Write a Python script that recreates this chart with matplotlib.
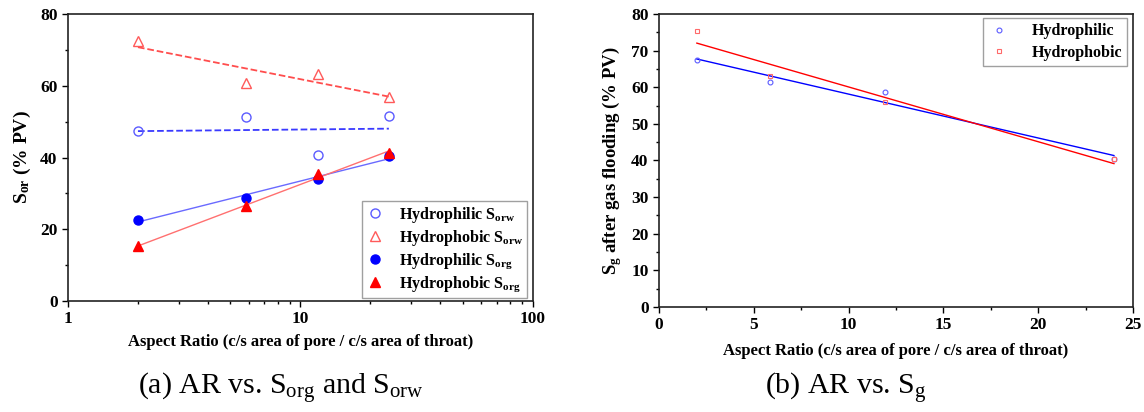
import numpy as np
import matplotlib
matplotlib.use("Agg")
import matplotlib.pyplot as plt
from matplotlib.ticker import MultipleLocator, LogLocator, NullFormatter

plt.rcParams["font.family"] = ["Liberation Serif", "DejaVu Serif"]
plt.rcParams["mathtext.fontset"] = "custom"
plt.rcParams["mathtext.rm"] = "Liberation Serif"
plt.rcParams["mathtext.bf"] = "Liberation Serif:bold"
plt.rcParams["mathtext.it"] = "Liberation Serif:italic"

# aspect ratio of the four pore networks
aspect_ratio = [2.0, 5.85, 11.9, 24.0]

# (a) residual oil saturation, % PV
hydrophilic_sorw = [47.3, 51.3, 40.7, 51.6]
hydrophobic_sorw = [72.4, 60.7, 63.3, 57.0]
hydrophilic_sorg = [22.7, 28.8, 34.0, 40.5]
hydrophobic_sorg = [15.2, 26.5, 35.4, 41.2]

# (b) gas saturation after gas flooding, % PV
hydrophilic_sg = [67.4, 61.5, 58.8, 40.3]
hydrophobic_sg = [75.4, 63.1, 55.9, 40.3]


def log_fit(x, y):
    lx = np.log10(x)
    k, b = np.polyfit(lx, y, 1)
    return k * lx + b


def lin_fit(x, y):
    x = np.asarray(x)
    k, b = np.polyfit(x, y, 1)
    return k * x + b


def style_axes(ax):
    for s in ax.spines.values():
        s.set_linewidth(1.2)
        s.set_color("#222222")
    ax.tick_params(which="both", direction="out", top=False, right=False,
                   width=1.0, labelsize=12.5)
    ax.tick_params(which="major", length=4)
    ax.tick_params(which="minor", length=2.5)
    for lbl in ax.get_xticklabels() + ax.get_yticklabels():
        lbl.set_fontweight("bold")


fig = plt.figure(figsize=(11.44, 4.12), dpi=100)

# ---- (a) ----
ax1 = fig.add_axes([0.0594, 0.2694, 0.4065, 0.6966])
x = np.asarray(aspect_ratio)
ax1.plot(x, log_fit(x, hydrophobic_sorw), "--", color="#ff4d4d", lw=1.3)
ax1.plot(x, log_fit(x, hydrophilic_sorw), "--", color="#3a3aff", lw=1.3)
ax1.plot(x, log_fit(x, hydrophilic_sorg), "-", color="#6a6aff", lw=1.0)
ax1.plot(x, log_fit(x, hydrophobic_sorg), "-", color="#ff7070", lw=1.0)

ax1.plot(x, hydrophilic_sorw, "o", ms=6.5, mfc="none", mec="#5b5bff", mew=1.0,
         ls="none", label=r"Hydrophilic S$_{\mathbf{orw}}$")
ax1.plot(x, hydrophobic_sorw, "^", ms=7, mfc="none", mec="#ff5a5a", mew=1.0,
         ls="none", label=r"Hydrophobic S$_{\mathbf{orw}}$")
ax1.plot(x, hydrophilic_sorg, "o", ms=6.5, color="#0000ff",
         ls="none", label=r"Hydrophilic S$_{\mathbf{org}}$")
ax1.plot(x, hydrophobic_sorg, "^", ms=7, color="#ff0000",
         ls="none", label=r"Hydrophobic S$_{\mathbf{org}}$")

ax1.set_xscale("log")
ax1.set_xlim(1, 100)
ax1.set_ylim(0, 80)
ax1.xaxis.set_minor_locator(LogLocator(base=10, subs=np.arange(2, 10), numticks=10))
ax1.xaxis.set_minor_formatter(NullFormatter())
ax1.set_xticks([1, 10, 100])
ax1.set_xticklabels(["1", "10", "100"])
ax1.yaxis.set_major_locator(MultipleLocator(20))
ax1.yaxis.set_minor_locator(MultipleLocator(10))
style_axes(ax1)
ax1.set_xlabel("Aspect Ratio (c/s area of pore / c/s area of throat)",
               fontsize=12, fontweight="bold", labelpad=5)
ax1.set_ylabel(r"S$_{\mathbf{or}}$ (% PV)", fontsize=14, fontweight="bold", labelpad=5)
leg1 = ax1.legend(loc="lower right", bbox_to_anchor=(0.988, 0.012),
                  prop={"weight": "bold", "size": 11.5}, frameon=True, fancybox=False,
                  edgecolor="#888888", borderpad=0.25, labelspacing=0.2,
                  handletextpad=0.9, handlelength=1.2, borderaxespad=0)
leg1.get_frame().set_linewidth(1.0)

# ---- (b) ----
ax2 = fig.add_axes([0.5760, 0.2549, 0.4143, 0.7112])
ax2.plot(x, lin_fit(x, hydrophilic_sg), "-", color="#0000ff", lw=1.0)
ax2.plot(x, lin_fit(x, hydrophobic_sg), "-", color="#ff0000", lw=1.0)
ax2.plot(x, hydrophilic_sg, "o", ms=3.5, mfc="none", mec="#5b5bff", mew=0.8,
         ls="none", label="Hydrophilic")
ax2.plot(x, hydrophobic_sg, "s", ms=3.5, mfc="none", mec="#ff6a6a", mew=0.8,
         ls="none", label="Hydrophobic")
ax2.set_xlim(0, 25)
ax2.set_ylim(0, 80)
ax2.xaxis.set_major_locator(MultipleLocator(5))
ax2.xaxis.set_minor_locator(MultipleLocator(2.5))
ax2.yaxis.set_major_locator(MultipleLocator(10))
ax2.yaxis.set_minor_locator(MultipleLocator(5))
style_axes(ax2)
ax2.set_xlabel("Aspect Ratio (c/s area of pore / c/s area of throat)",
               fontsize=12, fontweight="bold", labelpad=7)
ax2.set_ylabel(r"S$_{\mathbf{g}}$ after gas flooding (% PV)", fontsize=13.5,
               fontweight="bold", labelpad=5)
leg2 = ax2.legend(loc="upper right", bbox_to_anchor=(0.987, 0.985),
                  prop={"weight": "bold", "size": 11.5}, frameon=True, fancybox=False,
                  edgecolor="#888888", borderpad=0.3, labelspacing=0.35,
                  handletextpad=1.3, handlelength=1.4, borderaxespad=0)
leg2.get_frame().set_linewidth(1.0)

# captions
fig.text(0.2456, 0.058, r"(a) AR vs. S$_{\mathrm{org}}$ and S$_{\mathrm{orw}}$",
         fontsize=21.5, ha="center", va="center")
fig.text(0.739, 0.058, r"(b) AR vs. S$_{\mathrm{g}}$",
         fontsize=21.5, ha="center", va="center")

fig.savefig("out.png", dpi=100)
